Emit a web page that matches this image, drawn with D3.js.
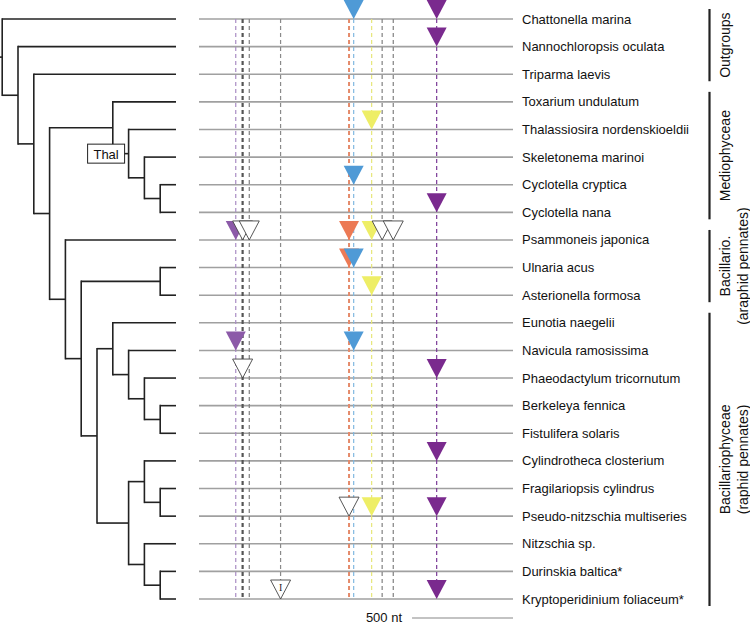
<!DOCTYPE html>
<html>
<head>
<meta charset="utf-8">
<script src="https://cdn.jsdelivr.net/npm/d3@7/dist/d3.min.js"></script>
<style>
  html, body { margin: 0; padding: 0; background: #fff; }
  svg { display: block; font-family: "Liberation Sans", Arial, sans-serif; }
</style>
</head>
<body>
<svg id="chart" width="750" height="624"></svg>
<script>
// ---------------- DATA ----------------
const taxa = [
  "Chattonella marina", "Nannochloropsis oculata", "Triparma laevis",
  "Toxarium undulatum", "Thalassiosira nordenskioeldii", "Skeletonema marinoi",
  "Cyclotella cryptica", "Cyclotella nana", "Psammoneis japonica",
  "Ulnaria acus", "Asterionella formosa", "Eunotia naegelii",
  "Navicula ramosissima", "Phaeodactylum tricornutum", "Berkeleya fennica",
  "Fistulifera solaris", "Cylindrotheca closterium", "Fragilariopsis cylindrus",
  "Pseudo-nitzschia multiseries", "Nitzschia sp.", "Durinskia baltica*",
  "Kryptoperidinium foliaceum*"
];

// Tree topology (cladogram), leaves referenced by index into taxa
const treeData = [0, [1, [2, [[3, [4, [5, [6, 7]]]],
                   [8, [[9, 10], [[11, [12, [13, [14, 15]]]], [[16, [17, 18]], [19, [20, 21]]]]]]]]]];
const thalNodeLeaves = [4, 7]; // node labelled "Thal"

// Genome length shown (nt) and scale bar
const genomeLength = 1555;
const scaleBarNt = 500;

// Intron / insertion sites (position in nt along the aligned gene)
const sites = [
  { id: "s1",  pos: 182,  color: "#a98cc4" },
  { id: "s2",  pos: 216,  color: "#555555" },
  { id: "s3",  pos: 249,  color: "#808080" },
  { id: "s4",  pos: 404,  color: "#8a8a8a" },
  { id: "s5",  pos: 743,  color: "#e58a6a" },
  { id: "s6",  pos: 766,  color: "#80b8e0" },
  { id: "s7",  pos: 855,  color: "#e6e67a" },
  { id: "s8",  pos: 907,  color: "#808080" },
  { id: "s9",  pos: 962,  color: "#808080" },
  { id: "s10", pos: 1177, color: "#7b3a96" }
];

// Marker fill colours per type
const markerFill = {
  lightPurple: "#8c5aa8",
  blue: "#4f9ad6",
  purple: "#7a2a8e",
  orange: "#ec7a55",
  yellow: "#eeee66",
  open: "#ffffff"
};

// Markers: taxon index, site id, marker type, optional label
const markers = [
  { taxon: 0,  site: "s6",  type: "blue" },
  { taxon: 0,  site: "s10", type: "purple" },
  { taxon: 1,  site: "s10", type: "purple" },
  { taxon: 4,  site: "s7",  type: "yellow" },
  { taxon: 6,  site: "s6",  type: "blue" },
  { taxon: 7,  site: "s10", type: "purple" },
  { taxon: 8,  site: "s1",  type: "lightPurple" },
  { taxon: 8,  site: "s2",  type: "open" },
  { taxon: 8,  site: "s3",  type: "open" },
  { taxon: 8,  site: "s5",  type: "orange" },
  { taxon: 8,  site: "s7",  type: "yellow" },
  { taxon: 8,  site: "s8",  type: "open" },
  { taxon: 8,  site: "s9",  type: "open" },
  { taxon: 9,  site: "s5",  type: "orange" },
  { taxon: 9,  site: "s6",  type: "blue" },
  { taxon: 10, site: "s7",  type: "yellow" },
  { taxon: 12, site: "s1",  type: "lightPurple" },
  { taxon: 12, site: "s6",  type: "blue" },
  { taxon: 13, site: "s2",  type: "open" },
  { taxon: 13, site: "s10", type: "purple" },
  { taxon: 16, site: "s10", type: "purple" },
  { taxon: 18, site: "s5",  type: "open" },
  { taxon: 18, site: "s7",  type: "yellow" },
  { taxon: 18, site: "s10", type: "purple" },
  { taxon: 21, site: "s4",  type: "open", label: "I" },
  { taxon: 21, site: "s10", type: "purple" }
];

// Clade brackets: first and last taxon index, label lines
const groups = [
  { from: 0,  to: 2,  lines: ["Outgroups"] },
  { from: 3,  to: 7,  lines: ["Mediophyceae"] },
  { from: 8,  to: 10, lines: ["Bacillario.", "(araphid pennates)"] },
  { from: 11, to: 21, lines: ["Bacillariophyceae", "(raphid pennates)"] }
];

// ---------------- DRAWING ----------------
const svg = d3.select("#chart");

const y = d3.scaleLinear().domain([0, taxa.length - 1]).range([19, 599]);
const x = d3.scaleLinear().domain([0, genomeLength]).range([199, 513]);
const tipX = 176, step = 15.8;

// --- Tree ---
function toHier(n) { return Array.isArray(n) ? { children: n.map(toHier) } : { leaf: n }; }
const root = d3.hierarchy(toHier(treeData));
root.eachAfter(d => {
  d.px = tipX - d.height * step;
  if (!d.children) d.py = y(d.data.leaf);
  else d.py = (d.children[0].py + d.children[d.children.length - 1].py) / 2;
});

const tree = svg.append("g").attr("stroke", "#222").attr("stroke-width", 1.6).attr("fill", "none");
root.each(d => {
  if (d.children) {
    const c0 = d.children[0], c1 = d.children[d.children.length - 1];
    tree.append("line").attr("x1", d.px).attr("x2", d.px).attr("y1", c0.py - 0.8).attr("y2", c1.py + 0.8);
    d.children.forEach(c => {
      tree.append("line").attr("x1", d.px).attr("x2", c.px).attr("y1", c.py).attr("y2", c.py);
    });
  }
});
tree.append("line").attr("x1", 0).attr("x2", root.px).attr("y1", root.py).attr("y2", root.py);

// Thal label box
let thal = null;
root.each(d => {
  if (d.children) {
    const lv = d.leaves().map(l => l.data.leaf);
    if (lv[0] === thalNodeLeaves[0] && lv[lv.length - 1] === thalNodeLeaves[1]) thal = d;
  }
});
if (thal) {
  const bw = 37, bh = 19;
  svg.append("rect").attr("x", thal.px - 4 - bw).attr("y", thal.py - bh / 2)
    .attr("width", bw).attr("height", bh).attr("fill", "#fff").attr("stroke", "#222").attr("stroke-width", 1);
  svg.append("text").attr("x", thal.px - 4 - bw / 2).attr("y", thal.py + 0.5)
    .attr("text-anchor", "middle").attr("dominant-baseline", "central")
    .attr("font-size", 13).attr("fill", "#111").text("Thal");
}

// --- Genome lines ---
svg.append("g").selectAll("line").data(taxa).join("line")
  .attr("x1", x(0)).attr("x2", x(genomeLength))
  .attr("y1", (d, i) => y(i)).attr("y2", (d, i) => y(i))
  .attr("stroke", "#a0a0a0").attr("stroke-width", 1.6);

// --- Site dashed verticals ---
const siteById = Object.fromEntries(sites.map(s => [s.id, s]));
svg.append("g").selectAll("line").data(sites).join("line")
  .attr("x1", d => x(d.pos)).attr("x2", d => x(d.pos))
  .attr("y1", y(0)).attr("y2", y(taxa.length - 1))
  .attr("stroke", d => d.color)
  .attr("stroke-width", d => d.id === "s2" ? 2.2 : (d.id === "s5" ? 2 : 1.2))
  .attr("stroke-dasharray", "4,3");

// --- Markers ---
const tw = 20, th = 19;
const mg = svg.append("g");
markers.forEach(m => {
  const cx = x(siteById[m.site].pos), cy = y(m.taxon);
  mg.append("path")
    .attr("d", `M${cx - tw / 2},${cy - th}L${cx + tw / 2},${cy - th}L${cx},${cy}Z`)
    .attr("fill", markerFill[m.type])
    .attr("stroke", m.type === "open" ? "#444" : "none")
    .attr("stroke-width", 0.9);
  if (m.label) {
    mg.append("text").attr("x", cx).attr("y", cy - th + 7)
      .attr("text-anchor", "middle").attr("dominant-baseline", "central")
      .attr("font-family", "'Liberation Serif', serif").attr("font-size", 10).attr("fill", "#222")
      .text(m.label);
  }
});

// --- Taxon labels ---
svg.append("g").selectAll("text").data(taxa).join("text")
  .attr("x", 522).attr("y", (d, i) => y(i))
  .attr("dominant-baseline", "central").attr("font-size", 13).attr("fill", "#111")
  .text(d => d);

// --- Group brackets ---
const gg = svg.append("g");
groups.forEach(g => {
  const y1 = y(g.from) - 10, y2 = y(g.to) + 7;
  gg.append("line").attr("x1", 709.5).attr("x2", 709.5).attr("y1", y1).attr("y2", y2)
    .attr("stroke", "#222").attr("stroke-width", 2.2);
  const cy = (y1 + y2) / 2;
  g.lines.forEach((t, k) => {
    const tx = 725 + k * 18;
    gg.append("text").attr("transform", `translate(${tx},${cy}) rotate(-90)`)
      .attr("text-anchor", "middle").attr("dominant-baseline", "central")
      .attr("font-size", 14).attr("fill", "#111").text(t);
  });
});

// --- Scale bar ---
svg.append("line").attr("x1", x(genomeLength - scaleBarNt)).attr("x2", x(genomeLength))
  .attr("y1", 618).attr("y2", 618).attr("stroke", "#888").attr("stroke-width", 1.2);
svg.append("text").attr("x", x(genomeLength - scaleBarNt) - 10).attr("y", 617)
  .attr("text-anchor", "end").attr("dominant-baseline", "central")
  .attr("font-size", 13).attr("fill", "#111").text(`${scaleBarNt} nt`);
</script>
</body>
</html>
